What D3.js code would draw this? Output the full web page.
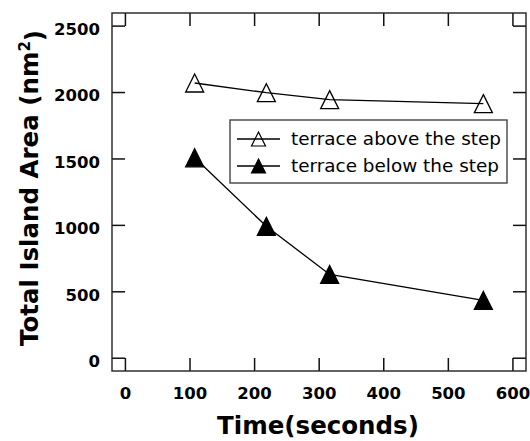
<!DOCTYPE html>
<html>
<head>
<meta charset="utf-8">
<script src="https://cdn.jsdelivr.net/npm/d3@7"></script>
<style>
  body { margin: 0; background: #fff; }
  svg { display: block; }
</style>
</head>
<body>
<div id="chart"></div>
<script>
// data
const times = [108, 219, 317, 555]
const aboveStep = [2068, 1995, 1943, 1913]
const belowStep = [1505, 989, 627, 431]
const xTicks = [0, 100, 200, 300, 400, 500, 600]
const yTicks = [0, 500, 1000, 1500, 2000, 2500]
const seriesNames = ['terrace above the step', 'terrace below the step']

const width = 530
const height = 441
const plot = { left: 112, top: 13, right: 526, bottom: 371 }
const font = '"DejaVu Sans", sans-serif'

const svg = d3.select('#chart')
  .append('svg')
  .attr('width', width)
  .attr('height', height)

const x = d3.scaleLinear().domain([-20, 621]).range([plot.left, plot.right])
const y = d3.scaleLinear().domain([-100, 2595]).range([plot.bottom, plot.top])

// triangle centred on its bounding box
const triangle = s => `M0,${-s / 2}L${s / 2},${s / 2}L${-s / 2},${s / 2}Z`

// axes, ticks pointing inward on all four sides
const styleAxis = g => {
  g.select('.domain').remove()
  g.selectAll('.tick line').attr('stroke', '#111').attr('stroke-width', 1.5)
  g.selectAll('.tick text')
    .attr('fill', '#000')
    .style('font-family', font)
    .style('font-weight', 'bold')
    .style('font-size', '16.5px')
}

svg.append('g')
  .attr('transform', `translate(0, ${plot.bottom})`)
  .call(d3.axisBottom(x).tickValues(xTicks).tickSize(-13).tickPadding(16).tickFormat(d3.format('d')))
  .call(styleAxis)

svg.append('g')
  .attr('transform', `translate(0, ${plot.top})`)
  .call(d3.axisTop(x).tickValues(xTicks).tickSize(-13).tickFormat(''))
  .call(styleAxis)

svg.append('g')
  .attr('transform', `translate(${plot.left}, 0)`)
  .call(d3.axisLeft(y).tickValues(yTicks).tickSize(-13).tickPadding(12).tickFormat(d3.format('d')))
  .call(styleAxis)
  .call(g => g.selectAll('.tick text').attr('dy', '0.53em'))

svg.append('g')
  .attr('transform', `translate(${plot.right}, 0)`)
  .call(d3.axisRight(y).tickValues(yTicks).tickSize(-13).tickFormat(''))
  .call(styleAxis)

// frame
svg.append('rect')
  .attr('x', plot.left)
  .attr('y', plot.top)
  .attr('width', plot.right - plot.left)
  .attr('height', plot.bottom - plot.top)
  .attr('fill', 'none')
  .attr('stroke', '#222')
  .attr('stroke-width', 1.4)

// series
const line = d3.line()
  .x((d, i) => x(times[i]))
  .y(d => y(d))

const series = [
  { name: seriesNames[0], values: aboveStep, fill: 'none' },
  { name: seriesNames[1], values: belowStep, fill: '#000' }
]

series.forEach(s => {
  const g = svg.append('g')
  g.append('path')
    .attr('d', line(s.values))
    .attr('fill', 'none')
    .attr('stroke', '#000')
    .attr('stroke-width', 1.3)
  g.selectAll('path.pt')
    .data(s.values)
    .enter()
    .append('path')
    .attr('class', 'pt')
    .attr('d', triangle(18))
    .attr('transform', (d, i) => `translate(${x(times[i])}, ${y(d)})`)
    .attr('fill', s.fill)
    .attr('stroke', '#000')
    .attr('stroke-width', 1.3)
})

// legend
const legend = svg.append('g')
legend.append('rect')
  .attr('x', 230)
  .attr('y', 120)
  .attr('width', 277)
  .attr('height', 63)
  .attr('fill', '#fff')
  .attr('stroke', '#444')
  .attr('stroke-width', 1.4)

series.forEach((s, i) => {
  const row = legend.append('g')
    .attr('transform', `translate(0, ${139 + i * 27})`)
  row.append('line')
    .attr('x1', 237)
    .attr('x2', 280)
    .attr('stroke', '#000')
    .attr('stroke-width', 1.3)
  row.append('path')
    .attr('d', triangle(14))
    .attr('transform', 'translate(258.5, 0)')
    .attr('fill', s.fill)
    .attr('stroke', '#000')
    .attr('stroke-width', 1.2)
  row.append('text')
    .attr('x', 291)
    .attr('y', 5.5)
    .style('font-family', font)
    .style('font-size', '18.4px')
    .text(s.name)
})

// axis titles
svg.append('text')
  .attr('x', 318)
  .attr('y', 434)
  .attr('text-anchor', 'middle')
  .style('font-family', font)
  .style('font-weight', 'bold')
  .style('font-size', '24.5px')
  .text('Time(seconds)')

const yTitle = svg.append('text')
  .attr('transform', 'translate(38, 188) rotate(-90)')
  .attr('text-anchor', 'middle')
  .style('font-family', font)
  .style('font-weight', 'bold')
  .style('font-size', '24.5px')
yTitle.append('tspan').text('Total Island Area (nm')
yTitle.append('tspan')
  .attr('dy', '-0.55em')
  .style('font-size', '15px')
  .text('2')
yTitle.append('tspan')
  .attr('dy', '0.55em')
  .text(')')
</script>
</body>
</html>
